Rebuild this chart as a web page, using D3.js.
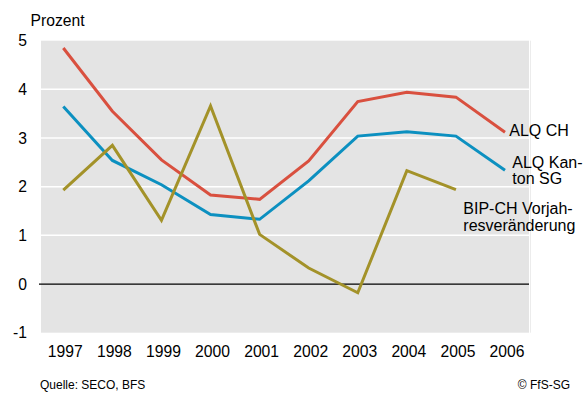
<html>
<head>
    <script src="https://d3js.org/d3.v7.min.js"></script>
    <style type="text/css">
        body { margin: 0; background: #fff; }
        text { font-family: "Liberation Sans", Arial, sans-serif; fill: #000; }
        line.grid { stroke: #fff; stroke-width: 1.5; }
        line.zero { stroke: #000; stroke-width: 1.3; }
        path.series { fill: none; stroke-width: 3; stroke-linejoin: miter; }
    </style>
</head>

<body>
    <svg></svg>

    <script>
        const Years = [1997, 1998, 1999, 2000, 2001, 2002, 2003, 2004, 2005, 2006];
        const AlqCH = [4.85, 3.55, 2.55, 1.83, 1.74, 2.53, 3.75, 3.94, 3.84, 3.12];
        const AlqSG = [3.65, 2.54, 2.04, 1.43, 1.33, 2.12, 3.04, 3.13, 3.04, 2.34];
        const BipCH = [1.93, 2.85, 1.31, 3.66, 1.02, 0.33, -0.18, 2.33, 1.94];
        const YTicks = [-1, 0, 1, 2, 3, 4, 5];

        const Width = 584, Height = 394;
        const Left = 41, Right = 529, Top = 40.7, Bottom = 332.7;

        var svg = d3.select("svg")
            .attr("width", Width).attr("height", Height);

        var x = d3.scaleLinear().domain([1997, 2006]).range([63.3, 505]);
        var y = d3.scaleLinear().domain([-1, 5]).range([Bottom, Top]);

        svg.append("rect")
            .attr("x", Left).attr("y", Top)
            .attr("width", Right - Left).attr("height", Bottom - Top)
            .attr("fill", "#e4e4e4");

        svg.append("line")
            .attr("x1", Right + 1.5).attr("x2", Right + 1.5)
            .attr("y1", Top).attr("y2", Bottom)
            .attr("stroke", "#ececec").attr("stroke-width", 1);

        svg.selectAll("line.grid")
            .data(YTicks.filter((d) => d > 0 && d < 5))
            .enter()
            .append("line").classed("grid", true)
                .attr("x1", Left).attr("x2", Right)
                .attr("y1", (d) => y(d)).attr("y2", (d) => y(d));

        svg.append("line").classed("zero", true)
            .attr("x1", Left - 2).attr("x2", Right)
            .attr("y1", y(0)).attr("y2", y(0));

        svg.selectAll("text.ytick")
            .data(YTicks)
            .enter()
            .append("text").classed("ytick", true)
                .attr("x", 27)
                .attr("y", (d) => y(d) + 5.5)
                .attr("text-anchor", "end")
                .attr("font-size", "15.7px")
                .text((d) => d);

        svg.selectAll("text.xtick")
            .data(Years)
            .enter()
            .append("text").classed("xtick", true)
                .attr("x", (d) => x(d) + 2)
                .attr("y", 357)
                .attr("text-anchor", "middle")
                .attr("font-size", "15.7px")
                .text((d) => d);

        svg.append("text")
            .attr("x", 30.5).attr("y", 26)
            .attr("font-size", "15.7px")
            .text("Prozent");

        var line = d3.line()
            .x((d, i) => x(Years[i]))
            .y((d) => y(d));

        var series = [
            { values: AlqCH, color: "#d9503f" },
            { values: AlqSG, color: "#0c90c0" },
            { values: BipCH, color: "#a39229" }
        ];

        svg.selectAll("path.series")
            .data(series)
            .enter()
            .append("path").classed("series", true)
                .attr("d", (d) => line(d.values))
                .attr("stroke", (d) => d.color);

        var labels = [
            { x: 509.3, y: 135.5, text: "ALQ CH" },
            { x: 512.3, y: 168.3, text: "ALQ Kan-" },
            { x: 512.3, y: 184, text: "ton SG" },
            { x: 463.3, y: 213.5, text: "BIP-CH Vorjah-" },
            { x: 463.3, y: 231, text: "resveränderung" }
        ];

        svg.selectAll("text.label")
            .data(labels)
            .enter()
            .append("text").classed("label", true)
                .attr("x", (d) => d.x)
                .attr("y", (d) => d.y)
                .attr("font-size", "16px")
                .text((d) => d.text);

        svg.append("text")
            .attr("x", 40).attr("y", 389)
            .attr("font-size", "12px")
            .text("Quelle: SECO, BFS");

        svg.append("text")
            .attr("x", 570).attr("y", 389)
            .attr("text-anchor", "end")
            .attr("font-size", "12px")
            .text("© FfS-SG");
    </script>
</body>

</html>
